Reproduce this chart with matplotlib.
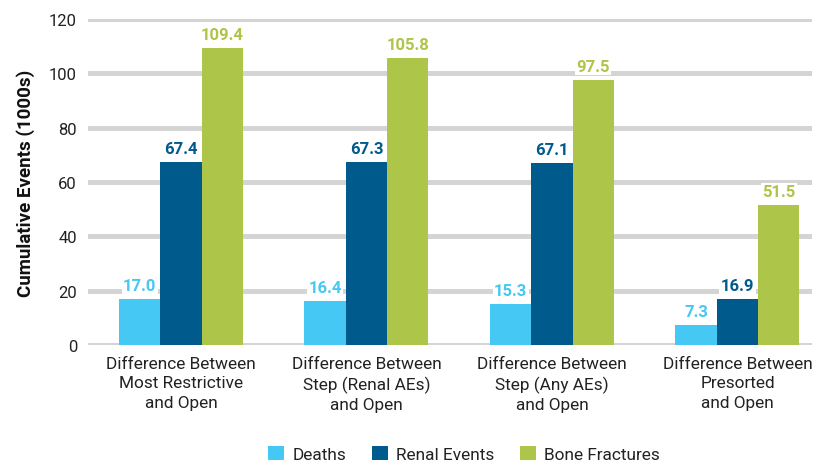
import matplotlib.pyplot as plt
import numpy as np

categories = ["Difference Between\nMost Restrictive\nand Open",
              "Difference Between\nStep (Renal AEs)\nand Open",
              "Difference Between\nStep (Any AEs)\nand Open",
              "Difference Between\nPresorted\nand Open"]
series_names = ["Deaths", "Renal Events", "Bone Fractures"]
deaths = [17.0, 16.4, 15.3, 7.3]
renal = [67.4, 67.3, 67.1, 16.9]
bone = [109.4, 105.8, 97.5, 51.5]
colors = ["#45C8F3", "#005A8C", "#ADC548"]

plt.rcParams["font.family"] = ["Roboto", "DejaVu Sans"]

fig = plt.figure(figsize=(8.24, 4.64), dpi=100)
ax = fig.add_axes([0.107, 0.254, 0.878, 0.703])

x = np.arange(len(categories))
w = 0.223
for i, (vals, name) in enumerate(zip([deaths, renal, bone], series_names)):
    pos = x + (i - 1) * w
    ax.bar(pos, vals, width=w, color=colors[i], label=name, zorder=3)
    for p, v in zip(pos, vals):
        ax.text(p, v + 2.2, f"{v:.1f}", ha="center", va="bottom",
                fontsize=12, fontweight="bold", color=colors[i], zorder=4,
                bbox=dict(facecolor="white", edgecolor="none", pad=1))

ax.set_ylim(0, 120)
ax.set_xlim(-0.5, 3.4)
ax.set_yticks(range(0, 121, 20))
ax.yaxis.grid(True, color="#d4d4d4", linewidth=3.6, zorder=0)
ax.set_axisbelow(True)
for s in ax.spines.values():
    s.set_visible(False)
ax.tick_params(length=0, labelsize=12, colors="#222222")
ax.tick_params(axis="y", pad=8)
ax.tick_params(axis="x", pad=8)
ax.set_xticks(x)
ax.set_xticklabels(categories, fontsize=12.4, linespacing=1.35)
ax.set_ylabel("Cumulative Events (1000s)", fontsize=13.5, fontweight="bold",
              color="#111111", labelpad=10)

ax.legend(loc="center", bbox_to_anchor=(0.52, -0.334), ncol=3, frameon=False,
          fontsize=12.4, handlelength=0.9, handleheight=0.9, columnspacing=1.5,
          handletextpad=0.5, labelcolor="#222222")

fig.savefig("out.png", dpi=100)
